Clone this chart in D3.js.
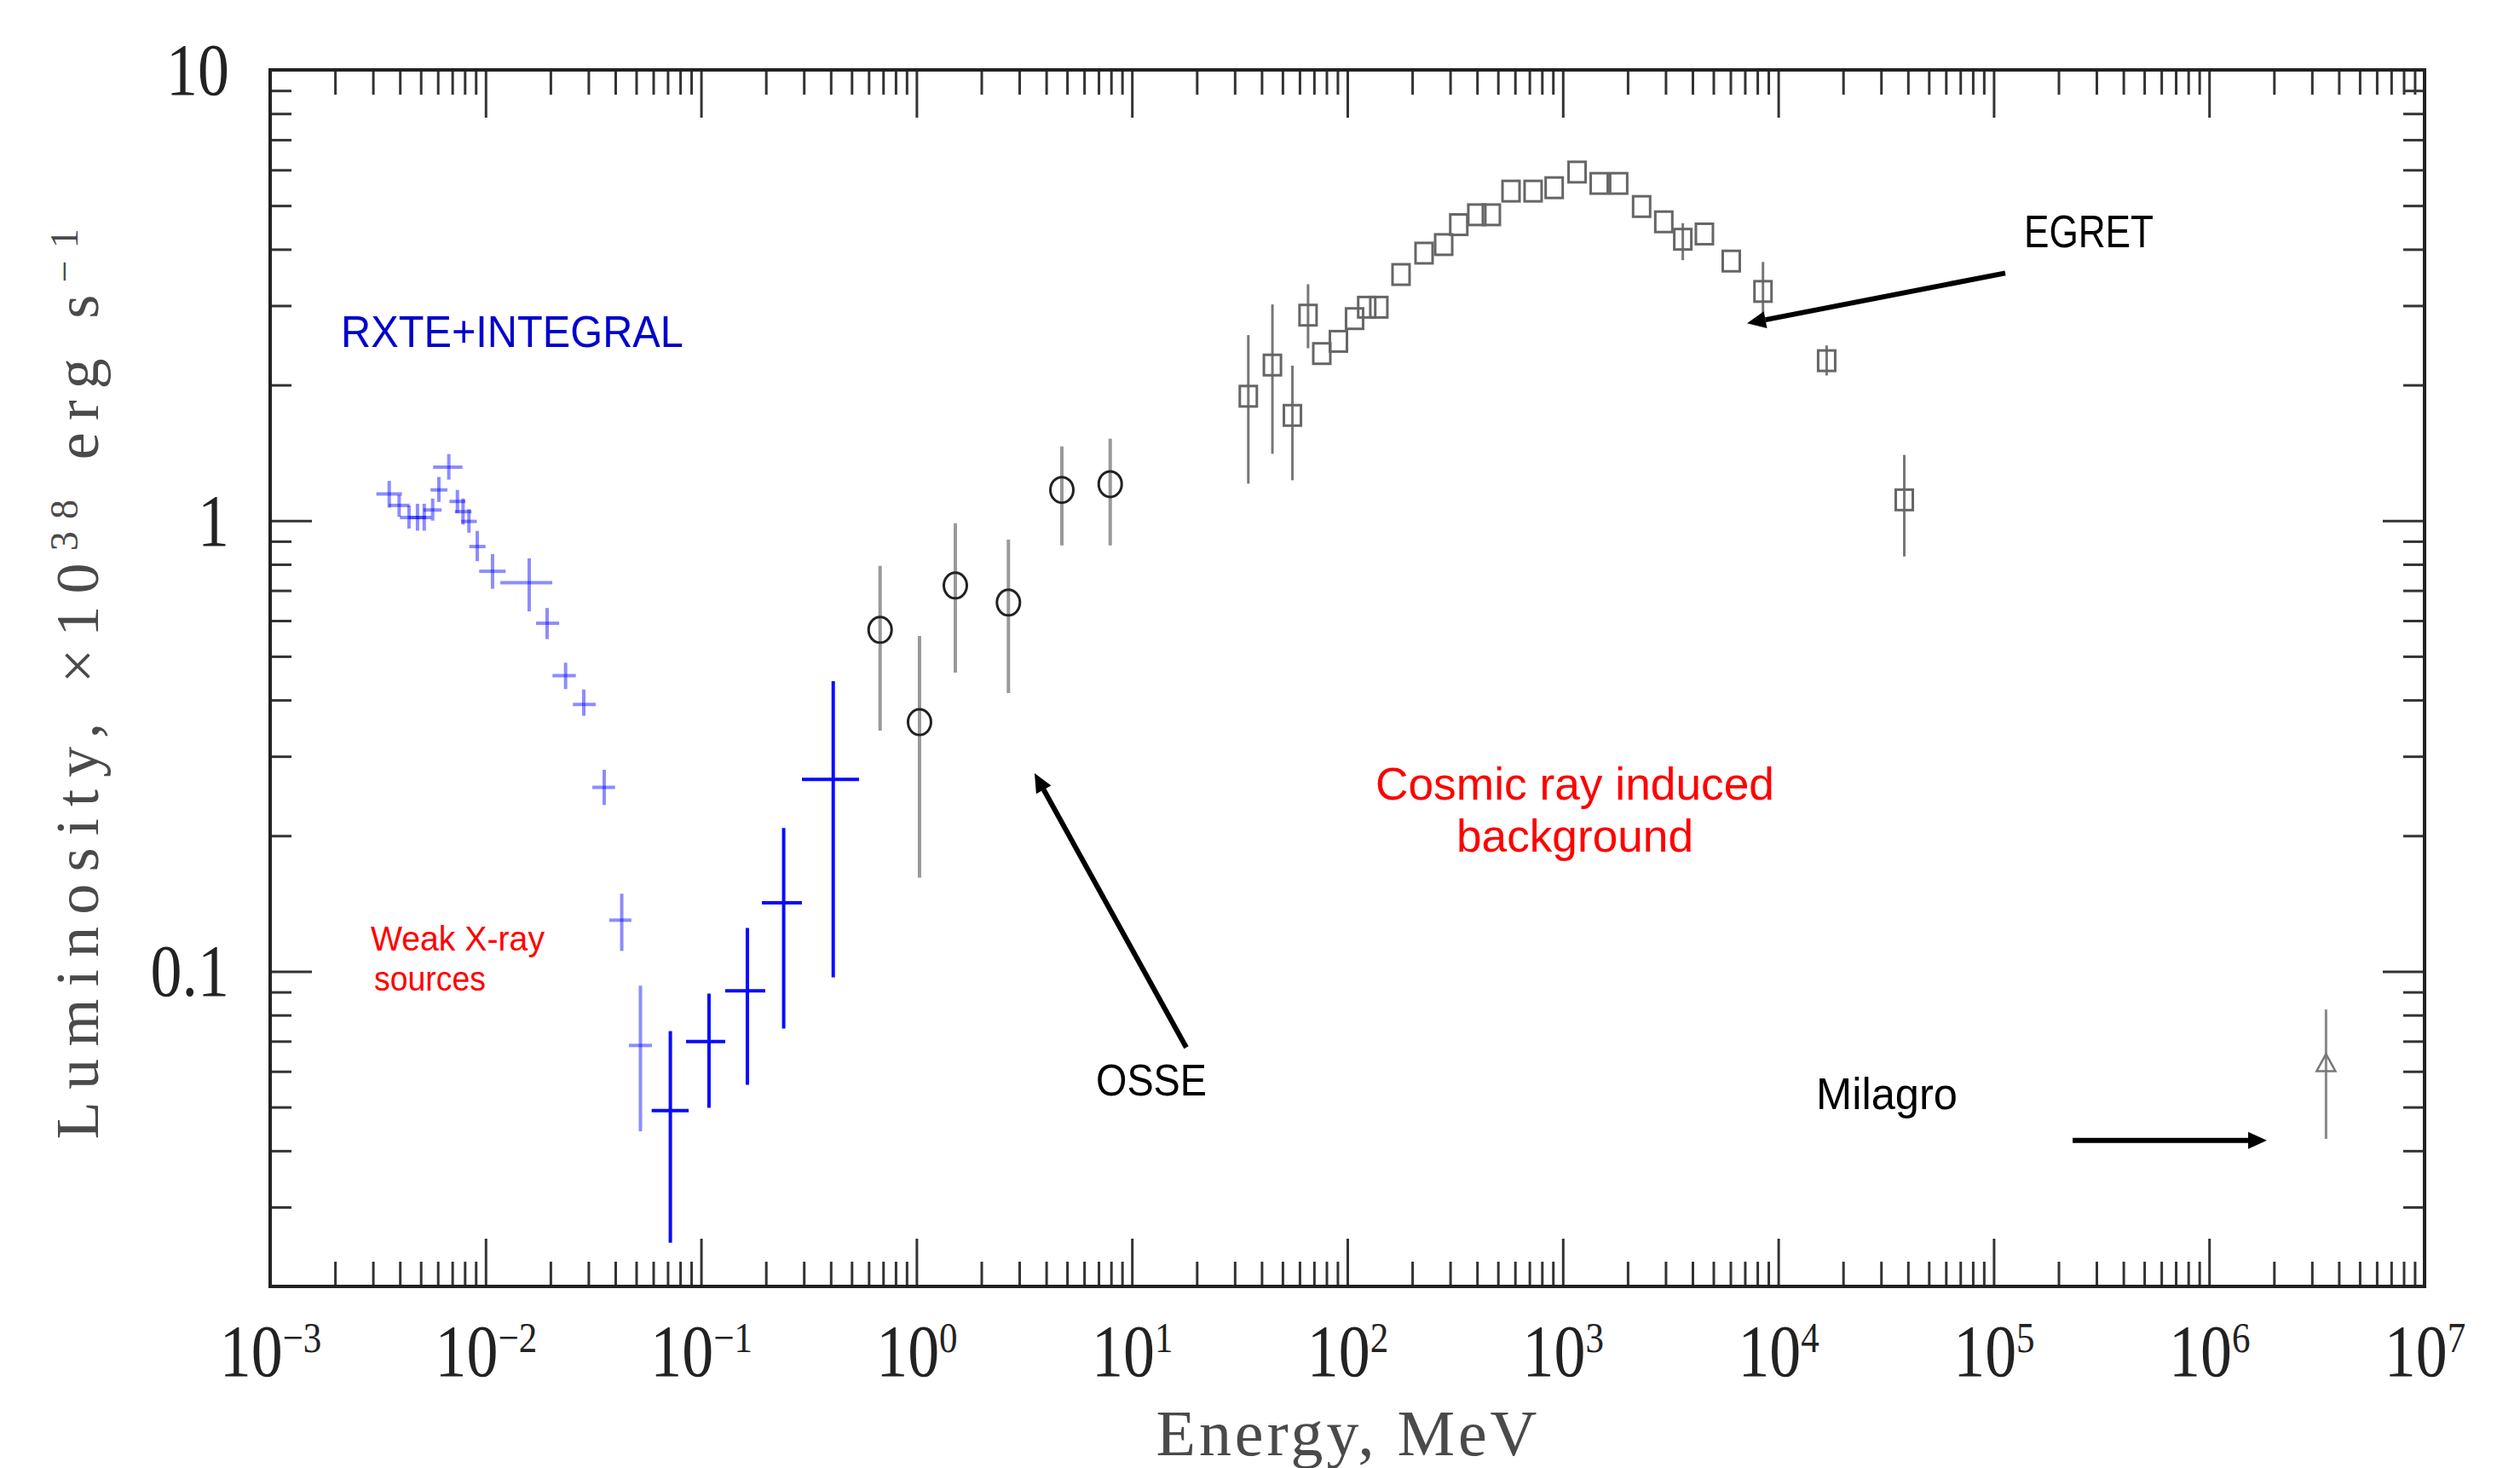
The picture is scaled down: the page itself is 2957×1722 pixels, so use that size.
<!DOCTYPE html>
<html>
<head>
<meta charset="utf-8">
<script src="https://cdn.jsdelivr.net/npm/d3@7/dist/d3.min.js"></script>
<style>
  body { margin: 0; background: #fff; }
  svg { display: block; }
</style>
</head>
<body>
<div id="vis"></div>
<script>
// axis ranges and tick labels
const xDomain = [1e-3, 1e7];
const yDomain = [0.02, 10];
const xMajor = [1e-3, 1e-2, 1e-1, 1e0, 1e1, 1e2, 1e3, 1e4, 1e5, 1e6, 1e7];
const xExponents = ["\u22123", "\u22122", "\u22121", "0", "1", "2", "3", "4", "5", "6", "7"];
const yMajor = [0.1, 1, 10];
const yLabels = ["0.1", "1", "10"];

// RXTE points (energy MeV, luminosity 1e38 erg/s, with error ranges)
const rxteE   = [0.00357, 0.00397, 0.00441, 0.00483, 0.00519, 0.00568, 0.00607, 0.00675, 0.00740, 0.00786, 0.00837, 0.00915, 0.01077, 0.01594, 0.01930, 0.02351, 0.02855, 0.03553, 0.04285, 0.05233];
const rxteL   = [1.146, 1.081, 1.016, 1.016, 1.016, 1.056, 1.170, 1.314, 1.103, 1.047, 0.996, 0.876, 0.772, 0.728, 0.592, 0.453, 0.391, 0.256, 0.1299, 0.0685];
const rxteElo = [0.00311, 0.00356, 0.00400, 0.00440, 0.00480, 0.00515, 0.00555, 0.00571, 0.00680, 0.00720, 0.00770, 0.00840, 0.00934, 0.01171, 0.01715, 0.02044, 0.02542, 0.03129, 0.03752, 0.0463];
const rxteEhi = [0.00409, 0.00444, 0.00485, 0.00530, 0.00560, 0.00625, 0.00665, 0.00781, 0.00805, 0.00860, 0.00910, 0.01000, 0.01239, 0.02040, 0.02195, 0.02623, 0.03245, 0.03990, 0.04753, 0.0592];
const rxteLlo = [1.069, 1.02, 0.96, 0.95, 0.95, 1.00, 1.10, 1.233, 1.04, 0.98, 0.94, 0.813, 0.706, 0.629, 0.546, 0.423, 0.369, 0.234, 0.111, 0.0442];
const rxteLhi = [1.225, 1.14, 1.08, 1.09, 1.09, 1.12, 1.25, 1.405, 1.17, 1.12, 1.06, 0.949, 0.843, 0.825, 0.640, 0.484, 0.422, 0.280, 0.1487, 0.0929];

// INTEGRAL points
const integralE   = [0.07205, 0.1089, 0.1641, 0.2419, 0.4108];
const integralL   = [0.0491, 0.0699, 0.0905, 0.142, 0.2665];
const integralElo = [0.059, 0.0852, 0.1295, 0.1916, 0.294];
const integralEhi = [0.0876, 0.1295, 0.1987, 0.294, 0.5414];
const integralLlo = [0.025, 0.0498, 0.056, 0.0747, 0.097];
const integralLhi = [0.0737, 0.0893, 0.1249, 0.208, 0.4405];

// OSSE points
const osseE   = [0.678, 1.033, 1.515, 2.672, 4.73, 7.93];
const osseL   = [0.5723, 0.3573, 0.7179, 0.658, 1.170, 1.205];
const osseLlo = [0.342, 0.1615, 0.460, 0.4145, 0.881, 0.881];
const osseLhi = [0.7936, 0.555, 0.987, 0.908, 1.461, 1.52];

// EGRET points (null = error bar hidden by the marker)
const egretE   = [34.7, 44.9, 55.6, 65.7, 76.1, 90.9, 108, 123, 140, 177.5, 227, 280, 329, 399, 466, 575, 728, 912, 1165, 1476, 1817, 2322, 2943, 3606, 4543, 6053, 8496, 16780, 38470];
const egretL   = [1.888, 2.214, 1.712, 2.857, 2.348, 2.499, 2.807, 2.975, 2.975, 3.516, 3.922, 4.097, 4.536, 4.771, 4.771, 5.384, 5.384, 5.478, 5.934, 5.600, 5.600, 4.977, 4.602, 4.210, 4.325, 3.766, 3.225, 2.264, 1.112];
const egretLlo = [1.208, 1.407, 1.229, 2.413, null, null, null, null, null, null, null, null, null, null, null, null, null, null, null, null, null, null, null, 3.783, null, null, 2.811, 2.099, 0.8328];
const egretLhi = [2.580, 3.018, 2.208, 3.346, null, null, null, null, null, null, null, null, null, null, null, null, null, null, null, null, null, null, null, 4.571, null, null, 3.749, 2.448, 1.399];

// Milagro point
const milagroE   = [3.488e6];
const milagroL   = [0.0622];
const milagroLlo = [0.0425];
const milagroLhi = [0.0823];

// annotations, anchored in data units (first line baseline)
const noteText = [["RXTE+INTEGRAL"], ["Weak X-ray", "sources"], ["Cosmic ray induced", "background"], ["OSSE"], ["EGRET"], ["Milagro"]];
const noteE    = [0.002129, 0.002929, 1138, 6.81, 138300, 14990];
const noteL    = [2.424, 0.1110, 0.2402, 0.0531, 4.037, 0.04956];

const arrowFromE = [17.88, 113200, 232500];
const arrowFromL = [0.0678, 3.542, 0.04217];
const arrowToE   = [3.534, 7164, 1.854e6];
const arrowToL   = [0.2751, 2.739, 0.04217];

class spectrum {
    constructor(){
        this.width = 2957;
        this.height = 1722;
        this.x = d3.scaleLog().domain(xDomain).range([317, 2845]);
        this.y = d3.scaleLog().domain(yDomain).range([1509, 82]);
        this.svg = d3.select("#vis").append("svg")
            .attr("width", this.width)
            .attr("height", this.height);
        this.svg.append("rect").attr("width", this.width).attr("height", this.height).attr("fill", "#fff");
    }

    // 2..9 times each power of ten between lo and hi
    minor(lo, hi){
        let t = [];
        for (let p = lo; p < hi; p++)
            for (let m = 2; m <= 9; m++) t.push(m * Math.pow(10, p));
        return t;
    }

    tickAxis(axisFn, scale, values, size, ty, tx){
        let a = axisFn(scale).tickValues(values).tickSizeInner(size).tickSizeOuter(0).tickFormat("");
        let g = this.svg.append("g").attr("transform", `translate(${tx || 0},${ty || 0})`).call(a);
        g.select(".domain").remove();
        g.selectAll(".tick line").attr("stroke", "#333").attr("stroke-width", 3);
        return g;
    }

    drawAxes(){
        const x = this.x, y = this.y;
        const xMinor = this.minor(-3, 7);
        const yMinor = this.minor(-2, 1);

        // minor + major ticks on all four sides, pointing inwards
        this.tickAxis(d3.axisBottom, x, xMinor, -29, 1509);
        this.tickAxis(d3.axisTop, x, xMinor, -29, 82);
        this.tickAxis(d3.axisTop, x, xMajor, -56, 82);
        this.tickAxis(d3.axisLeft, y, yMinor, -25, 0, 317);
        this.tickAxis(d3.axisRight, y, yMinor, -25, 0, 2845);
        this.tickAxis(d3.axisRight, y, yMajor, -49, 0, 2845);

        let bottom = this.tickAxis(d3.axisBottom, x, xMajor, -56, 1509);
        bottom.selectAll(".tick text")
            .attr("y", 105).attr("dy", null)
            .attr("transform", "scale(0.86,1)")
            .attr("font-family", "'Liberation Serif', serif")
            .attr("font-size", 86)
            .attr("fill", "#222")
            .each(function(d, i){
                let t = d3.select(this);
                t.append("tspan").text("10");
                t.append("tspan").attr("font-size", 50).attr("dy", -28).text(xExponents[i]);
            });

        let left = this.tickAxis(d3.axisLeft, y, yMajor, -49, 0, 317);
        left.selectAll(".tick text")
            .attr("x", -48 / 0.86).attr("dy", "0.33em")
            .attr("transform", "scale(0.86,1)")
            .attr("font-family", "'Liberation Serif', serif")
            .attr("font-size", 86)
            .attr("fill", "#222")
            .text((d, i) => yLabels[i]);

        // frame
        this.svg.append("rect")
            .attr("x", 317).attr("y", 82)
            .attr("width", 2845 - 317).attr("height", 1509 - 82)
            .attr("fill", "none").attr("stroke", "#222").attr("stroke-width", 4);

        // axis titles
        let xt = this.svg.append("text")
            .attr("x", 1582).attr("y", 1707)
            .attr("text-anchor", "middle")
            .attr("font-family", "'Liberation Serif', serif")
            .attr("font-size", 76)
            .attr("fill", "#4a4a4a")
            .text("Energy, MeV");
        this.spread(xt, 447);

        let yt = this.svg.append("text")
            .attr("transform", "translate(115,795) rotate(-90)")
            .attr("text-anchor", "middle")
            .attr("font-family", "'Liberation Serif', serif")
            .attr("font-size", 72)
            .attr("fill", "#4a4a4a");
        yt.append("tspan").text("Luminosity, \u00d710");
        yt.append("tspan").attr("font-size", 46).attr("dy", -24).text("38");
        yt.append("tspan").attr("dy", 24).text(" erg s");
        yt.append("tspan").attr("font-size", 46).attr("dy", -24).text("\u22121");
        this.spread(yt, 1068);
    }

    // widen letter spacing until the text is target px long
    spread(t, target){
        let w = t.node().getComputedTextLength();
        let n = t.text().length;
        t.attr("letter-spacing", (target - w) / (n - 1));
    }

    crosses(E, L, Elo, Ehi, Llo, Lhi, colour, opacity){
        const x = this.x, y = this.y;
        let g = this.svg.append("g")
            .attr("stroke", colour).attr("stroke-width", 4)
            .attr("stroke-opacity", opacity);
        E.forEach((e, i) => {
            g.append("line").attr("x1", x(Elo[i])).attr("x2", x(Ehi[i])).attr("y1", y(L[i])).attr("y2", y(L[i]));
            g.append("line").attr("x1", x(e)).attr("x2", x(e)).attr("y1", y(Llo[i])).attr("y2", y(Lhi[i]));
        });
    }

    vbars(E, Llo, Lhi, colour, w){
        const x = this.x, y = this.y;
        this.svg.append("g").attr("stroke", colour).attr("stroke-width", w)
            .selectAll("line")
            .data(E.map((e, i) => [e, Llo[i], Lhi[i]]).filter(d => d[1] !== null))
            .enter().append("line")
            .attr("x1", d => x(d[0])).attr("x2", d => x(d[0]))
            .attr("y1", d => y(d[1])).attr("y2", d => y(d[2]));
    }

    drawData(){
        const x = this.x, y = this.y;

        this.crosses(rxteE, rxteL, rxteElo, rxteEhi, rxteLlo, rxteLhi, "#0000ff", 0.45);
        this.crosses(integralE, integralL, integralElo, integralEhi, integralLlo, integralLhi, "#0a0aff", 1);

        // OSSE
        this.vbars(osseE, osseLlo, osseLhi, "#999", 4);
        this.svg.append("g").selectAll("ellipse")
            .data(osseE.map((e, i) => [e, osseL[i]]))
            .enter().append("ellipse")
            .attr("cx", d => x(d[0])).attr("cy", d => y(d[1]))
            .attr("rx", 13.5).attr("ry", 15)
            .attr("fill", "none").attr("stroke", "#222").attr("stroke-width", 3);

        // EGRET
        this.vbars(egretE, egretLlo, egretLhi, "#777", 3);
        this.svg.append("g").selectAll("rect")
            .data(egretE.map((e, i) => [e, egretL[i]]))
            .enter().append("rect")
            .attr("x", d => x(d[0]) - 10).attr("y", d => y(d[1]) - 12)
            .attr("width", 20).attr("height", 24)
            .attr("fill", "none").attr("stroke", "#666").attr("stroke-width", 3);

        // Milagro
        this.vbars(milagroE, milagroLlo, milagroLhi, "#888", 3);
        this.svg.append("g").selectAll("path")
            .data(milagroE.map((e, i) => [e, milagroL[i]]))
            .enter().append("path")
            .attr("d", d => `M${x(d[0])},${y(d[1]) - 12} L${x(d[0]) + 11},${y(d[1]) + 8} L${x(d[0]) - 11},${y(d[1]) + 8} Z`)
            .attr("fill", "none").attr("stroke", "#777").attr("stroke-width", 2.5);
    }

    drawNotes(){
        const x = this.x, y = this.y;
        // line height of Liberation Sans stays under the tight leading of the original
        const style = {
            "RXTE+INTEGRAL":      {colour: "#0000cc", size: 52, w: [402], anchor: "start", lead: 0, dx: [0]},
            "Weak X-ray":         {colour: "#ff0000", size: 41, w: [204, 131], anchor: "start", lead: 47, dx: [0, 4]},
            "Cosmic ray induced": {colour: "#ff0000", size: 54, w: [468, 278], anchor: "middle", lead: 61, dx: [0, 0]},
            "OSSE":               {colour: "#000", size: 52, w: [130], anchor: "start", lead: 0, dx: [0]},
            "EGRET":              {colour: "#000", size: 54, w: [152], anchor: "start", lead: 0, dx: [0]},
            "Milagro":            {colour: "#000", size: 52, w: [166], anchor: "start", lead: 0, dx: [0]}
        };
        noteText.forEach((lines, i) => {
            let st = style[lines[0]];
            let px = x(noteE[i]);
            let t = this.svg.append("text")
                .attr("x", px).attr("y", y(noteL[i]))
                .attr("text-anchor", st.anchor)
                .attr("font-family", "'Liberation Sans', sans-serif")
                .attr("font-size", st.size)
                .attr("fill", st.colour);
            lines.forEach((s, k) => {
                t.append("tspan")
                    .attr("x", px + st.dx[k]).attr("dy", k ? st.lead : 0)
                    .attr("textLength", st.w[k])
                    .attr("lengthAdjust", "spacingAndGlyphs")
                    .text(s);
            });
        });

        // arrows
        arrowFromE.forEach((e, i) => {
            let x0 = x(e), y0 = y(arrowFromL[i]);
            let x1 = x(arrowToE[i]), y1 = y(arrowToL[i]);
            let a = Math.atan2(y1 - y0, x1 - x0);
            let hl = 22, hw = 10;
            let bx = x1 - hl * Math.cos(a), by = y1 - hl * Math.sin(a);
            this.svg.append("line")
                .attr("x1", x0).attr("y1", y0).attr("x2", bx).attr("y2", by)
                .attr("stroke", "#000").attr("stroke-width", 6);
            this.svg.append("path")
                .attr("d", `M${x1},${y1} L${bx + hw * Math.sin(a)},${by - hw * Math.cos(a)} L${bx - hw * Math.sin(a)},${by + hw * Math.cos(a)} Z`)
                .attr("fill", "#000");
        });
    }
}

let chart = new spectrum();
chart.drawAxes();
chart.drawData();
chart.drawNotes();
</script>
</body>
</html>
